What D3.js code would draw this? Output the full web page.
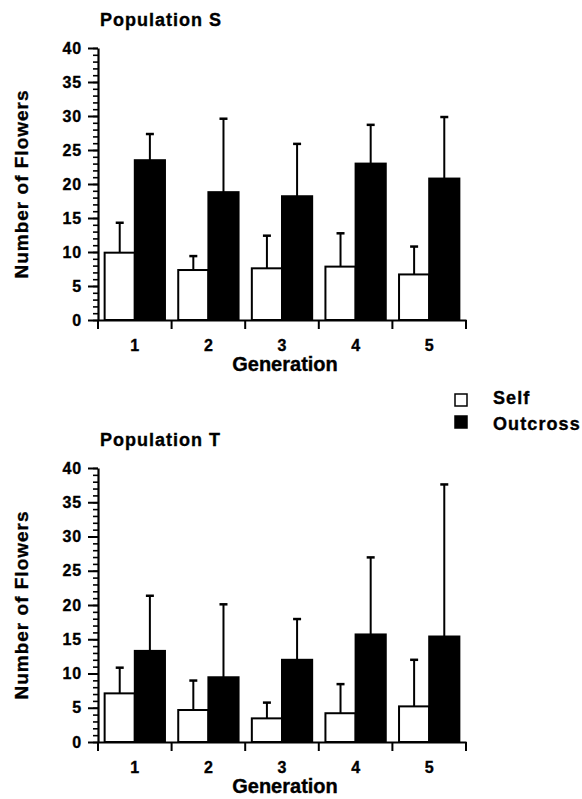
<!DOCTYPE html>
<html>
<head>
<meta charset="utf-8">
<script src="https://cdn.jsdelivr.net/npm/d3@7"></script>
<style>
  body { margin: 0; background: #fff; }
  text { font-family: "Liberation Sans", Arial, Helvetica, sans-serif; font-weight: bold; stroke: #000; stroke-width: 0.35px; }
</style>
</head>
<body>
<div id="chart-container"></div>
<script>
const generations = ["1", "2", "3", "4", "5"];
const series = ["Self", "Outcross"];
const yTicks = [0, 5, 10, 15, 20, 25, 30, 35, 40];

// population S: means and upper error lengths
const sSelf = [9.9, 7.35, 7.6, 7.85, 6.7];
const sSelfErr = [4.4, 2.05, 4.8, 4.9, 4.1];
const sOut = [23.5, 18.8, 18.2, 23.0, 20.8];
const sOutErr = [3.85, 10.8, 7.7, 5.7, 9.05];

// population T
const tSelf = [7.1, 4.67, 3.45, 4.2, 5.2];
const tSelfErr = [3.75, 4.3, 2.3, 4.25, 6.8];
const tOut = [13.3, 9.45, 12.0, 15.7, 15.4];
const tOutErr = [8.05, 10.65, 5.95, 11.25, 22.2];

const width = 582;
const height = 799;

const svg = d3.select("#chart-container").append("svg")
    .attr("width", width)
    .attr("height", height);

function panel(title, self, selfErr, out, outErr, yTop, yBottom) {
    const marginLeft = 98;
    const right = 466;

    const x = d3.scaleBand()
        .domain(generations)
        .range([marginLeft, right]);

    const x1 = d3.scaleBand()
        .domain(series)
        .range([0, x.bandwidth()])
        .paddingInner(0)
        .paddingOuter(0.22);

    const y = d3.scaleLinear()
        .domain([0, 40])
        .range([yBottom, yTop]);

    const g = svg.append("g");

    const rows = generations.map((gen, i) => ({
        gen,
        vals: [
            {key: "Self", v: self[i], e: selfErr[i]},
            {key: "Outcross", v: out[i], e: outErr[i]}
        ]
    }));

    // error bars (upper only)
    const err = g.append("g")
        .attr("stroke", "#000")
        .attr("stroke-width", 2)
        .selectAll("g")
        .data(rows.flatMap(r => r.vals.map(d => ({...d, gen: r.gen}))))
        .join("g");

    err.append("line")
        .attr("x1", d => x(d.gen) + x1(d.key) + x1.bandwidth() / 2)
        .attr("x2", d => x(d.gen) + x1(d.key) + x1.bandwidth() / 2)
        .attr("y1", d => y(d.v))
        .attr("y2", d => y(d.v + d.e));

    err.append("line")
        .attr("x1", d => x(d.gen) + x1(d.key) + x1.bandwidth() / 2 - 4)
        .attr("x2", d => x(d.gen) + x1(d.key) + x1.bandwidth() / 2 + 4)
        .attr("y1", d => y(d.v + d.e))
        .attr("y2", d => y(d.v + d.e))
        .attr("stroke-width", 2.5);

    // bars
    g.append("g")
        .selectAll("g")
        .data(rows)
        .join("g")
        .attr("transform", d => `translate(${x(d.gen)},0)`)
        .selectAll("rect")
        .data(d => d.vals)
        .join("rect")
        .attr("x", d => x1(d.key))
        .attr("y", d => y(d.v))
        .attr("width", x1.bandwidth())
        .attr("height", d => y(0) - y(d.v))
        .attr("fill", d => d.key === "Self" ? "#fff" : "#000")
        .attr("stroke", "#000")
        .attr("stroke-width", 2);

    // y axis: minor + major ticks
    g.append("g")
        .attr("transform", `translate(${marginLeft},0)`)
        .call(d3.axisLeft(y).tickValues(d3.range(0, 41, 1)).tickSize(5).tickFormat(""))
        .call(a => a.select(".domain").remove())
        .call(a => a.selectAll("line").attr("stroke-width", 1.6));

    g.append("g")
        .attr("transform", `translate(${marginLeft},0)`)
        .call(d3.axisLeft(y).tickValues(yTicks).tickSize(10).tickSizeOuter(0).tickPadding(6))
        .call(a => a.select(".domain").attr("stroke-width", 2.2))
        .call(a => a.selectAll("line").attr("stroke-width", 2))
        .call(a => a.selectAll("text")
            .attr("font-size", 16)
            .attr("letter-spacing", 0.8)
            .attr("fill", "#000"));

    // x axis: boundary ticks and centred labels
    g.append("g")
        .attr("transform", `translate(0,${yBottom})`)
        .call(d3.axisBottom(x).tickSize(0).tickPadding(20).tickSizeOuter(0))
        .call(a => a.select(".domain").attr("stroke-width", 2.2))
        .call(a => a.selectAll("text")
            .attr("font-size", 16)
            .attr("fill", "#000"));

    g.append("g")
        .selectAll("line")
        .data(x.domain().map(d => x(d)).concat(x.range()[1]))
        .join("line")
        .attr("x1", d => d)
        .attr("x2", d => d)
        .attr("y1", yBottom)
        .attr("y2", yBottom + 9)
        .attr("stroke", "#000")
        .attr("stroke-width", 2);

    // labels
    g.append("text")
        .attr("x", 100)
        .attr("y", yTop - 22)
        .attr("font-size", 18)
        .attr("letter-spacing", 1)
        .text(title);

    g.append("text")
        .attr("x", 285)
        .attr("y", yBottom + 51)
        .attr("text-anchor", "middle")
        .attr("font-size", 20)
        .text("Generation");

    g.append("text")
        .attr("transform", `translate(28,${(yTop + yBottom) / 2}) rotate(-90)`)
        .attr("text-anchor", "middle")
        .attr("font-size", 19)
        .attr("letter-spacing", 1)
        .text("Number of Flowers");
}

panel("Population S", sSelf, sSelfErr, sOut, sOutErr, 48, 320);
panel("Population T", tSelf, tSelfErr, tOut, tOutErr, 468, 742);

// legend
const legend = svg.append("g")
    .selectAll("g")
    .data(series)
    .join("g")
    .attr("transform", (d, i) => `translate(455,${394 + i * 22})`);

legend.append("rect")
    .attr("width", 12)
    .attr("height", 12)
    .attr("fill", d => d === "Self" ? "#fff" : "#000")
    .attr("stroke", "#000")
    .attr("stroke-width", 1.5);

legend.append("text")
    .attr("x", 38)
    .attr("y", (d, i) => i === 0 ? 10 : 14)
    .attr("font-size", 18)
    .attr("letter-spacing", 1.1)
    .text(d => d);
</script>
</body>
</html>
